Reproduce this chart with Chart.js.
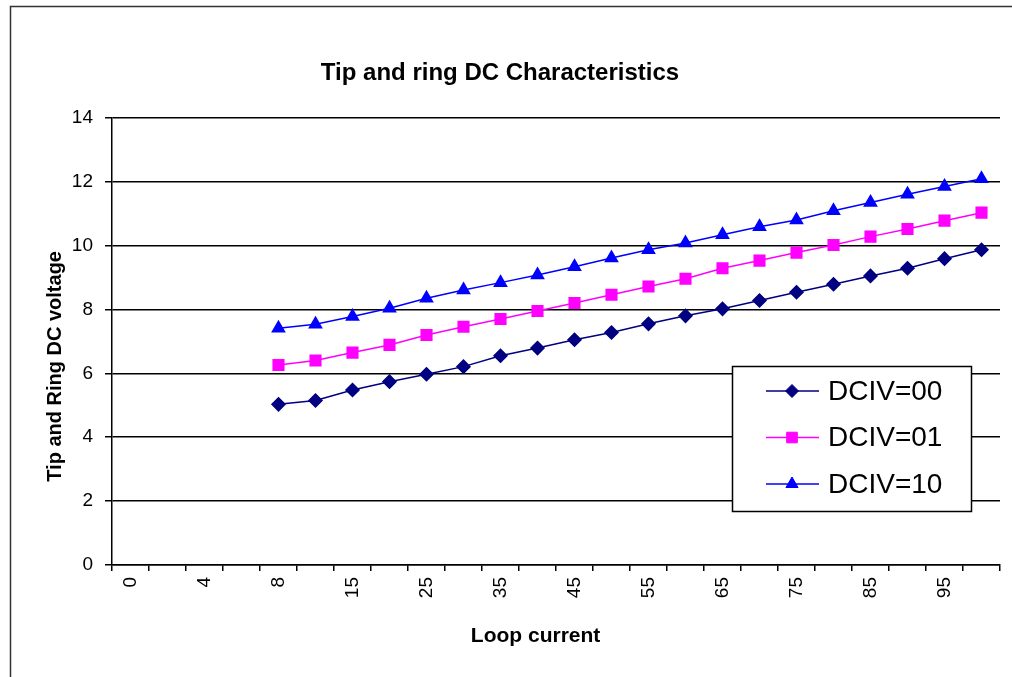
<!DOCTYPE html>
<html>
<head>
<meta charset="utf-8">
<script src="https://cdn.jsdelivr.net/npm/chart.js@4/dist/chart.umd.min.js"></script>
<style>
  body { margin: 0; background: #fff; }
  #wrap { width: 1012px; height: 677px; }
</style>
</head>
<body>
<div id="wrap"><canvas id="grafico" width="1012" height="677"></canvas></div>
<script>
// categorias del eje X (corriente de bucle)
const categorias = ['0','2','4','6','8','10','15','20','25','30','35','40','45','50','55','60','65','70','75','80','85','90','95','100'];
// corrientes con medida
const corrMedida = ['8','10','15','20','25','30','35','40','45','50','55','60','65','70','75','80','85','90','95','100'];

const dciv00 = [5.03, 5.15, 5.48, 5.74, 5.97, 6.21, 6.55, 6.79, 7.05, 7.28, 7.55, 7.80, 8.02, 8.28, 8.54, 8.79, 9.05, 9.29, 9.59, 9.87];
const dciv01 = [6.26, 6.40, 6.65, 6.89, 7.20, 7.46, 7.70, 7.95, 8.20, 8.46, 8.72, 8.96, 9.29, 9.53, 9.78, 10.02, 10.28, 10.52, 10.78, 11.03];
const dciv10 = [7.41, 7.54, 7.78, 8.04, 8.35, 8.61, 8.84, 9.08, 9.34, 9.61, 9.87, 10.08, 10.34, 10.59, 10.80, 11.09, 11.35, 11.61, 11.85, 12.09];

const ticksY = [0, 2, 4, 6, 8, 10, 12, 14];

const fuente = 'Arial, "Liberation Sans", sans-serif';

function serie(valores) {
  return valores.map((v, i) => ({ x: corrMedida[i], y: v }));
}

// marco exterior y fondo
const marco = {
  id: 'marco',
  beforeDraw(chart) {
    const ctx = chart.ctx;
    ctx.save();
    ctx.fillStyle = '#fff';
    ctx.fillRect(0, 0, chart.width, chart.height);
    ctx.strokeStyle = '#333';
    ctx.lineWidth = 1.5;
    ctx.strokeRect(10.5, 6.5, chart.width + 20, chart.height + 20);
    ctx.restore();
  }
};

function dibujaMarcador(ctx, estilo, x, y, r) {
  ctx.beginPath();
  if (estilo === 'rectRot') {
    ctx.moveTo(x, y - r); ctx.lineTo(x + r, y); ctx.lineTo(x, y + r); ctx.lineTo(x - r, y);
  } else if (estilo === 'rect') {
    const s = r * Math.SQRT1_2;
    ctx.rect(x - s, y - s, 2 * s, 2 * s);
  } else {
    const h = r * Math.sqrt(3) / 2;
    ctx.moveTo(x, y - r); ctx.lineTo(x + h, y + r / 2); ctx.lineTo(x - h, y + r / 2);
  }
  ctx.closePath();
  ctx.fill();
  ctx.stroke();
}

// leyenda dentro del área, con caja
const leyenda = {
  id: 'leyenda',
  afterDraw(chart) {
    const ctx = chart.ctx;
    const x0 = 732, y0 = 366, w = 239, h = 145;
    ctx.save();
    ctx.fillStyle = '#fff';
    ctx.fillRect(x0, y0, w, h);
    ctx.strokeStyle = '#000';
    ctx.lineWidth = 1.5;
    ctx.strokeRect(x0 + 0.5, y0 + 0.5, w, h);
    chart.data.datasets.forEach((ds, i) => {
      const y = y0 + 25 + i * 46.5;
      ctx.strokeStyle = ds.borderColor;
      ctx.lineWidth = ds.borderWidth;
      ctx.beginPath();
      ctx.moveTo(766, y); ctx.lineTo(819, y);
      ctx.stroke();
      ctx.fillStyle = ds.pointBackgroundColor;
      ctx.lineWidth = 1;
      dibujaMarcador(ctx, ds.pointStyle, 792, y, ds.pointRadius);
      ctx.fillStyle = '#000';
      ctx.font = '28px ' + fuente;
      ctx.textBaseline = 'middle';
      ctx.fillText(ds.label, 828, y + 1);
    });
    ctx.restore();
  }
};

const ctx = document.getElementById('grafico').getContext('2d');
new Chart(ctx, {
  type: 'line',
  data: {
    labels: categorias,
    datasets: [
      {
        label: 'DCIV=00',
        data: serie(dciv00),
        borderColor: '#000080',
        backgroundColor: '#000080',
        pointBackgroundColor: '#000080',
        pointBorderColor: '#000080',
        borderWidth: 1.5,
        pointStyle: 'rectRot',
        pointRadius: 6.5,
        tension: 0
      },
      {
        label: 'DCIV=01',
        data: serie(dciv01),
        borderColor: '#FF00FF',
        backgroundColor: '#FF00FF',
        pointBackgroundColor: '#FF00FF',
        pointBorderColor: '#FF00FF',
        borderWidth: 1.5,
        pointStyle: 'rect',
        pointRadius: 7.5,
        tension: 0
      },
      {
        label: 'DCIV=10',
        data: serie(dciv10),
        borderColor: '#0000FF',
        backgroundColor: '#0000FF',
        pointBackgroundColor: '#0000FF',
        pointBorderColor: '#0000FF',
        borderWidth: 1.5,
        pointStyle: 'triangle',
        pointRadius: 7,
        tension: 0
      }
    ]
  },
  options: {
    responsive: false,
    animation: false,
    layout: { padding: { top: 0, left: 0, right: 12, bottom: 0 } },
    plugins: {
      legend: { display: false },
      tooltip: { enabled: false },
      title: {
        display: true,
        text: 'Tip and ring DC Characteristics',
        color: '#000',
        font: { family: fuente, size: 24, weight: 'bold' },
        padding: { top: 59, bottom: 30 }
      }
    },
    scales: {
      x: {
        type: 'category',
        offset: true,
        afterFit: s => { s.height = 112; },
        grid: { offset: true, drawOnChartArea: false, color: '#000', tickLength: 6, lineWidth: 1.5 },
        border: { display: true, color: '#000', width: 1.5 },
        ticks: {
          autoSkip: false,
          maxRotation: 90,
          minRotation: 90,
          padding: 6,
          color: '#000',
          font: { family: fuente, size: 19 },
          callback: function (v, i) { return i % 2 === 0 ? this.getLabelForValue(v) : ''; }
        },
        title: {
          display: true,
          // espacios finales para desplazar el título a la izquierda, como en Excel
          text: 'Loop current       ',
          color: '#000',
          font: { family: fuente, size: 21, weight: 'bold' },
          padding: { top: 4, bottom: 28 }
        }
      },
      y: {
        min: 0,
        max: 14,
        afterFit: s => { s.width = 112; },
        afterBuildTicks: s => { s.ticks = ticksY.map(v => ({ value: v })); },
        grid: { color: '#000', lineWidth: 1.5, tickLength: 7 },
        border: { display: true, color: '#000', width: 1.5 },
        ticks: {
          padding: 12,
          color: '#000',
          font: { family: fuente, size: 19 }
        },
        title: {
          display: true,
          text: 'Tip and Ring DC voltage         ',
          color: '#000',
          font: { family: fuente, size: 20, weight: 'bold' },
          padding: { top: 43, bottom: 4 }
        }
      }
    }
  },
  plugins: [marco, leyenda]
});
</script>
</body>
</html>
